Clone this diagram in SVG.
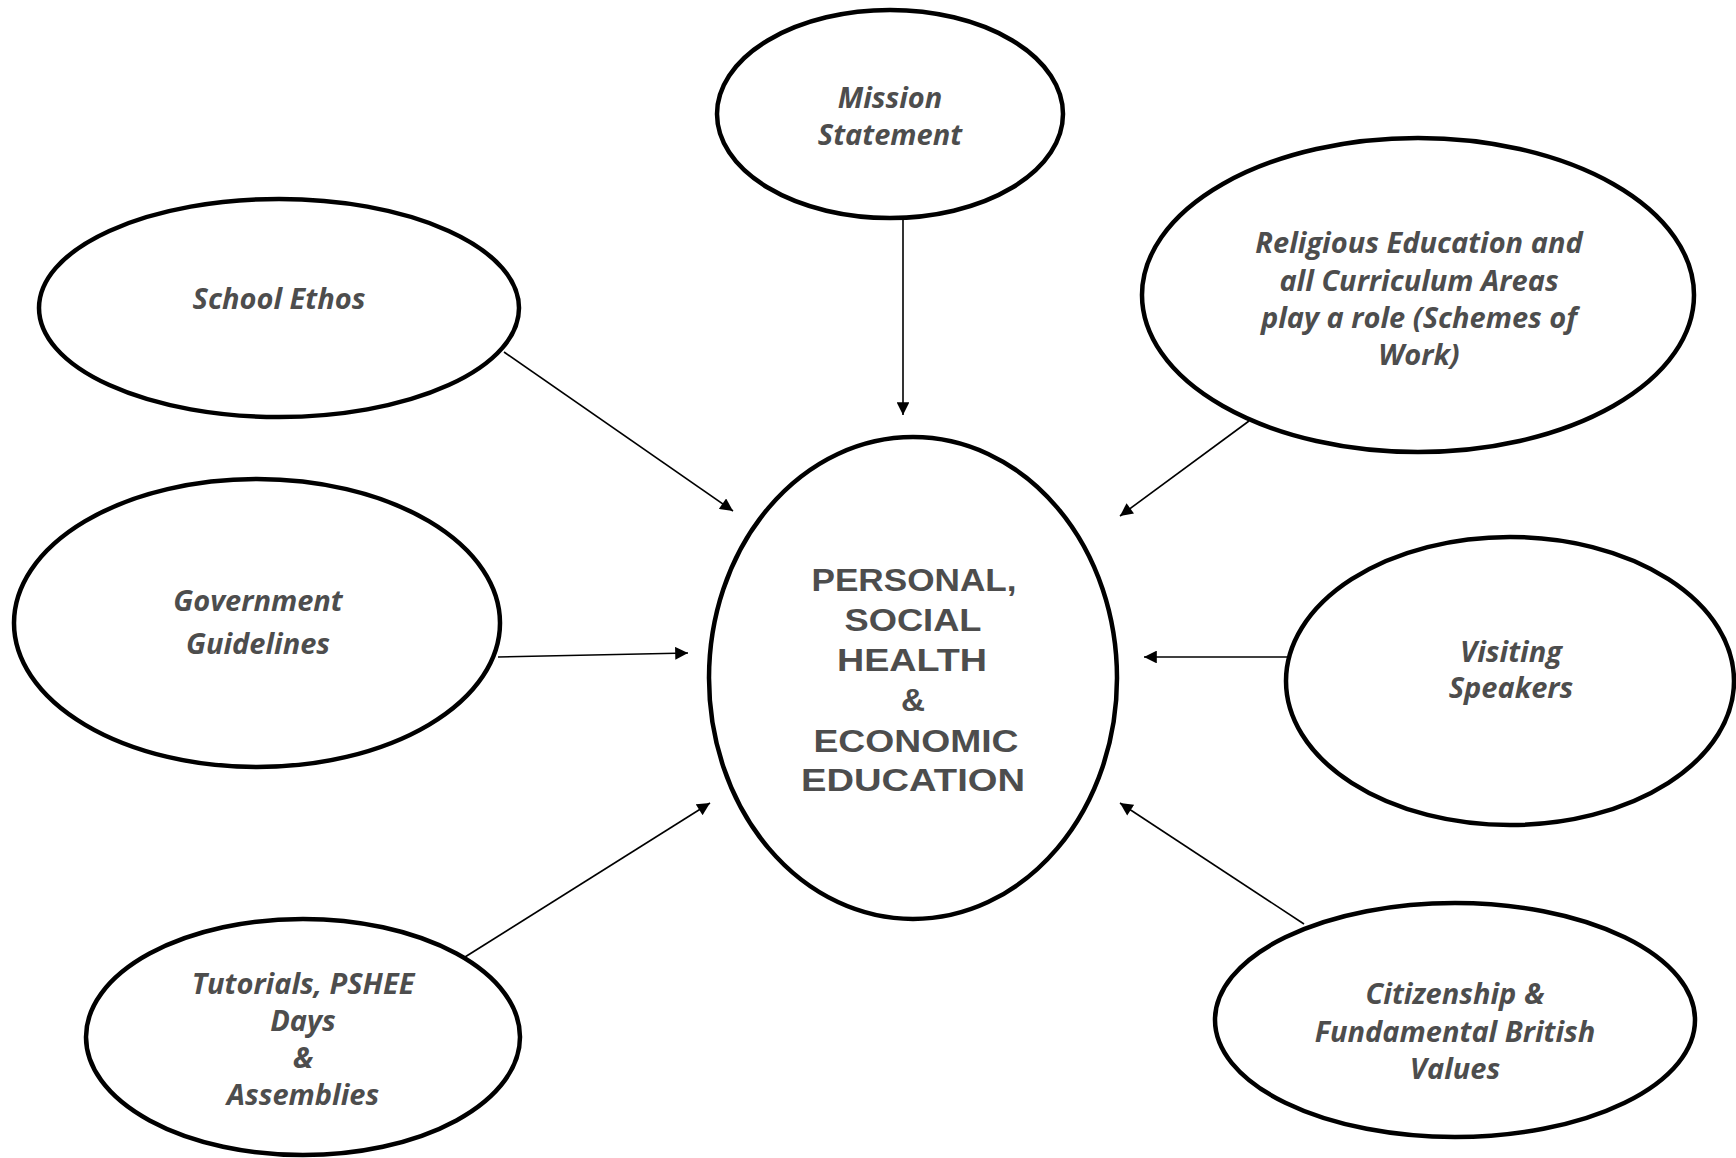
<svg xmlns="http://www.w3.org/2000/svg" width="1736" height="1158" viewBox="0 0 1736 1158">
<defs>
<style>
.node ellipse{fill:#fff;stroke:#000;stroke-width:4.5}
.lbl{font-family:"Open Sans",Lato,"Liberation Sans",sans-serif;font-style:italic;font-weight:bold;font-size:29px;fill:#4d4d4d;text-anchor:middle}
.ctr{font-family:"Liberation Sans",Arial,sans-serif;font-weight:bold;font-size:31px;fill:#4d4d4d;text-anchor:middle}
.conn line{stroke:#000;stroke-width:1.6;marker-end:url(#ah)}
</style>
<marker id="ah" viewBox="0 0 10 10" refX="10" refY="5" markerWidth="8.5" markerHeight="8" orient="auto" markerUnits="strokeWidth">
<path d="M0,0 L10,5 L0,10 z" fill="#000"/>
</marker>
</defs>
<rect width="1736" height="1158" fill="#fff"/>
<g id="connectors" class="conn">
<line x1="903" y1="219" x2="903" y2="415"/>
<line x1="504" y1="352" x2="733" y2="511"/>
<line x1="1249" y1="421" x2="1120" y2="516"/>
<line x1="498" y1="657" x2="688" y2="653"/>
<line x1="1288" y1="657" x2="1144" y2="657"/>
<line x1="465" y1="957" x2="710" y2="803"/>
<line x1="1304" y1="924" x2="1120" y2="803"/>
</g>
<g id="mission" class="node">
<ellipse cx="890" cy="114" rx="173" ry="104"/>
<text class="lbl" x="890" y="108">Mission</text>
<text class="lbl" x="890" y="145">Statement</text>
</g>
<g id="school-ethos" class="node">
<ellipse cx="279" cy="308" rx="240" ry="109"/>
<text class="lbl" x="279" y="309">School Ethos</text>
</g>
<g id="religious" class="node">
<ellipse cx="1418" cy="295" rx="276" ry="157"/>
<text class="lbl" x="1419" y="253">Religious Education and</text>
<text class="lbl" x="1419" y="291">all Curriculum Areas</text>
<text class="lbl" x="1419" y="328">play a role (Schemes of</text>
<text class="lbl" x="1419" y="365">Work)</text>
</g>
<g id="government" class="node">
<ellipse cx="257" cy="623" rx="243" ry="144"/>
<text class="lbl" x="258" y="611">Government</text>
<text class="lbl" x="258" y="654">Guidelines</text>
</g>
<g id="pshee" class="node">
<ellipse cx="913" cy="678" rx="204" ry="241"/>
<text class="ctr" x="914" y="591" textLength="205" lengthAdjust="spacingAndGlyphs">PERSONAL,</text>
<text class="ctr" x="913" y="631" textLength="137" lengthAdjust="spacingAndGlyphs">SOCIAL</text>
<text class="ctr" x="912" y="671" textLength="150" lengthAdjust="spacingAndGlyphs">HEALTH</text>
<text class="ctr" x="913" y="711" textLength="24" lengthAdjust="spacingAndGlyphs">&amp;</text>
<text class="ctr" x="916" y="752" textLength="205" lengthAdjust="spacingAndGlyphs">ECONOMIC</text>
<text class="ctr" x="913" y="791" textLength="224" lengthAdjust="spacingAndGlyphs">EDUCATION</text>
</g>
<g id="visiting" class="node">
<ellipse cx="1510" cy="681" rx="224" ry="144"/>
<text class="lbl" x="1511" y="662">Visiting</text>
<text class="lbl" x="1511" y="698">Speakers</text>
</g>
<g id="tutorials" class="node">
<ellipse cx="303" cy="1037" rx="217" ry="118"/>
<text class="lbl" x="303" y="994">Tutorials, PSHEE</text>
<text class="lbl" x="303" y="1031">Days</text>
<text class="lbl" x="303" y="1068">&amp;</text>
<text class="lbl" x="303" y="1105">Assemblies</text>
</g>
<g id="citizenship" class="node">
<ellipse cx="1455" cy="1020" rx="240" ry="117"/>
<text class="lbl" x="1455" y="1004">Citizenship &amp;</text>
<text class="lbl" x="1455" y="1042">Fundamental British</text>
<text class="lbl" x="1455" y="1079">Values</text>
</g>
</svg>
